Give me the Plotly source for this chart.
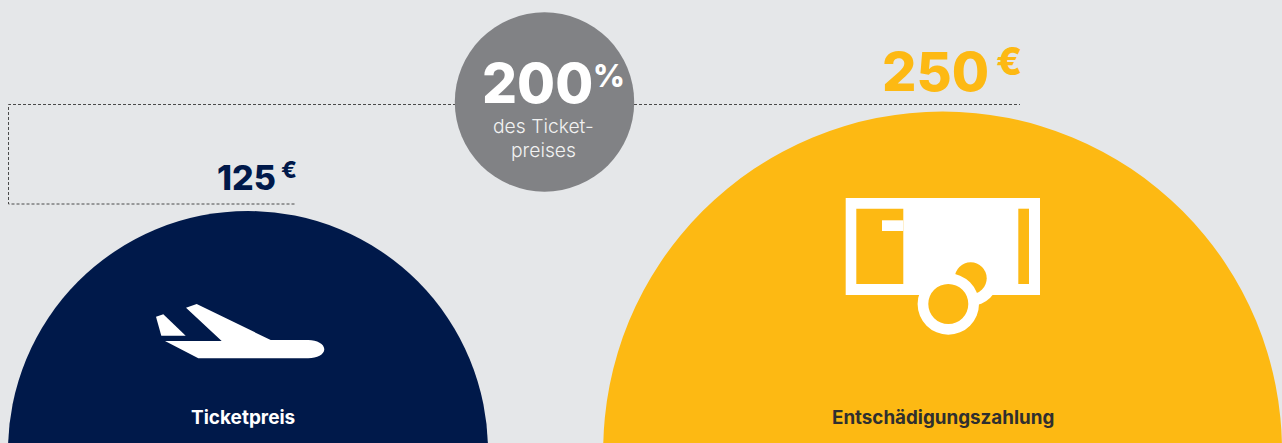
import math
import plotly.graph_objects as go

# Values shown by the two half circles (circle area is proportional to the amount)
categories = ["Ticketpreis", "Entschädigungszahlung"]
amounts_eur = [125, 250]
share_percent = [200]
share_caption = ["des Ticket-", "preises"]
currency = "€"
percent_sign = "%"

WIDTH, HEIGHT = 1282, 443
BG = "#e5e7e9"
NAVY = "#00194a"
YELLOW = "#fdb913"
GREY = "#818285"
INK = "#2f2f2f"
DASH = "#4a4a4a"
FONT = "Inter"

RADIUS_PER_ROOT_EUR = 240 / math.sqrt(125)
CENTER_Y = 451
centers_x = [248, 942.6]
colors = [NAVY, YELLOW]


def circle(cx, cy, r, fill):
    return dict(type="circle", xref="x", yref="y", x0=cx - r, x1=cx + r, y0=cy - r, y1=cy + r,
                fillcolor=fill, line_width=0, layer="above")


def rect(x0, y0, x1, y1, fill):
    return dict(type="rect", xref="x", yref="y", x0=x0, x1=x1, y0=y0, y1=y1,
                fillcolor=fill, line_width=0, layer="above")


def path(d, fill="rgba(0,0,0,0)", line=None):
    shape = dict(type="path", xref="x", yref="y", path=d, fillcolor=fill, layer="above")
    shape["line"] = line if line else dict(width=0)
    return shape


dashed = dict(color=DASH, width=1, dash="3px,2px")
shapes = []

# Dashed connectors from the amounts to the percentage badge
shapes.append(path("M 456 104.5 L 8.5 104.5 L 8.5 204 L 296 204", line=dashed))
shapes.append(path("M 634 104.5 L 1020 104.5", line=dashed))

# Half circles, sized from the amounts
for cx, value, color in zip(centers_x, amounts_eur, colors):
    shapes.append(circle(cx, CENTER_Y, RADIUS_PER_ROOT_EUR * math.sqrt(value), color))

# Percentage badge
shapes.append(circle(544.5, 102, 89.7, GREY))

# Aeroplane icon
shapes.append(path("M 156 316.7 L 163.3 314.3 L 185.7 335.7 L 161.3 335.7 Z", fill="white"))
shapes.append(path(
    "M 186 307.7 L 196.7 304 L 270.7 340 L 308.3 340 "
    "C 317 340 324.3 344 324.3 349.3 C 324.3 354.5 317 358.3 308.3 358.3 "
    "L 198.3 358.3 L 165 341 L 221.7 341 Z",
    fill="white",
))

# Ticket icon with coins
shapes.append(rect(845.7, 198, 1040, 295, "white"))
shapes.append(rect(856.3, 208.7, 903.3, 284, YELLOW))
shapes.append(rect(882, 220.3, 903.3, 231, "white"))
shapes.append(rect(1018.3, 208.7, 1029, 284, YELLOW))
shapes.append(circle(970.7, 278.3, 27.6, "white"))
shapes.append(circle(970.7, 278.3, 16, YELLOW))
shapes.append(circle(948.3, 304, 30.7, "white"))
shapes.append(circle(948.3, 304, 20, YELLOW))


def label(x, y, text, size, color, weight=400, xanchor="center"):
    return dict(x=x, y=y, xref="x", yref="y", text=text, showarrow=False,
                xanchor=xanchor, yanchor="middle",
                font=dict(family=FONT, size=size, color=color, weight=weight))


annotations = [
    label(277.5, 177, str(amounts_eur[0]), 34, NAVY, 800, "right"),
    label(279, 170, currency, 23, NAVY, 800, "left"),
    label(991, 71, str(amounts_eur[1]), 54, YELLOW, 800, "right"),
    label(994, 61, currency, 38, YELLOW, 800, "left"),
    label(595, 83, str(share_percent[0]), 55, "white", 800, "right"),
    label(591, 75, percent_sign, 31, "white", 800, "left"),
    label(543.5, 126, share_caption[0], 19.3, "#f2f2f2", 300),
    label(543.5, 150, share_caption[1], 19.3, "#f2f2f2", 300),
    label(242.5, 417, categories[0], 19, "white", 700),
    label(943, 417, categories[1], 18.8, INK, 700),
]

fig = go.Figure()
fig.add_trace(go.Scatter(x=[0], y=[0], mode="markers", marker=dict(opacity=0), hoverinfo="skip", showlegend=False))
fig.update_layout(
    width=WIDTH, height=HEIGHT, margin=dict(l=0, r=0, t=0, b=0),
    paper_bgcolor=BG, plot_bgcolor=BG, showlegend=False,
    xaxis=dict(range=[0, WIDTH], visible=False, fixedrange=True),
    yaxis=dict(range=[HEIGHT, 0], visible=False, fixedrange=True),
    shapes=shapes, annotations=annotations,
)
fig.write_html("out.html", config={"displayModeBar": False},
               default_width=WIDTH, default_height=HEIGHT)
